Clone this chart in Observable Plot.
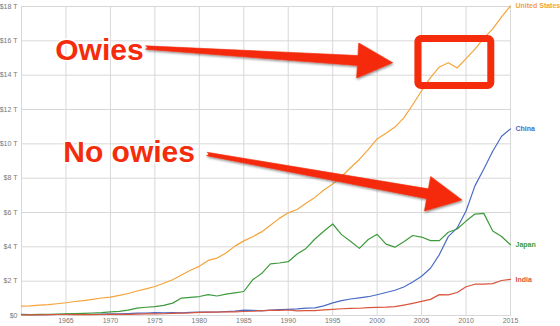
<!DOCTYPE html>
<html>
<head>
<meta charset="utf-8">
<script src="https://cdn.jsdelivr.net/npm/d3@7"></script>
<script src="https://cdn.jsdelivr.net/npm/@observablehq/plot@0.6"></script>
<style>
  html, body { margin: 0; padding: 0; background: #fff; }
  #chart svg { display: block; }
</style>
</head>
<body>
<div id="chart"></div>
<script>
// ---- Data (GDP, current US$, trillions) ----
const years = [1960,1961,1962,1963,1964,1965,1966,1967,1968,1969,
  1970,1971,1972,1973,1974,1975,1976,1977,1978,1979,
  1980,1981,1982,1983,1984,1985,1986,1987,1988,1989,
  1990,1991,1992,1993,1994,1995,1996,1997,1998,1999,
  2000,2001,2002,2003,2004,2005,2006,2007,2008,2009,
  2010,2011,2012,2013,2014,2015];

const unitedStates = [0.543,0.563,0.605,0.639,0.686,0.744,0.815,0.862,0.943,1.020,
  1.075,1.168,1.282,1.429,1.549,1.689,1.878,2.086,2.357,2.632,
  2.863,3.211,3.345,3.638,4.041,4.347,4.590,4.870,5.253,5.658,
  5.980,6.174,6.539,6.879,7.309,7.664,8.100,8.609,9.089,9.661,
  10.285,10.622,10.978,11.511,12.275,13.094,13.856,14.478,14.719,14.419,
  14.964,15.518,16.155,16.692,17.393,18.037];

const china = [0.060,0.050,0.047,0.051,0.059,0.070,0.077,0.073,0.070,0.079,
  0.093,0.100,0.114,0.139,0.144,0.164,0.154,0.175,0.150,0.178,
  0.191,0.196,0.205,0.230,0.260,0.310,0.301,0.273,0.313,0.348,
  0.361,0.383,0.427,0.445,0.564,0.735,0.864,0.962,1.029,1.094,
  1.211,1.339,1.471,1.660,1.955,2.286,2.752,3.550,4.594,5.102,
  6.087,7.552,8.532,9.570,10.440,10.870];

const japan = [0.044,0.054,0.061,0.070,0.082,0.091,0.106,0.123,0.147,0.172,
  0.212,0.240,0.318,0.432,0.479,0.521,0.586,0.721,1.014,1.055,
  1.105,1.218,1.135,1.243,1.318,1.398,2.078,2.441,3.012,3.059,
  3.133,3.585,3.909,4.455,4.907,5.330,4.710,4.320,3.910,4.430,
  4.730,4.160,3.980,4.300,4.660,4.570,4.360,4.360,4.850,5.040,
  5.500,5.910,5.950,4.920,4.600,4.120];

const india = [0.037,0.039,0.042,0.048,0.057,0.059,0.046,0.050,0.053,0.058,
  0.062,0.067,0.071,0.085,0.099,0.098,0.103,0.121,0.137,0.153,
  0.186,0.193,0.201,0.219,0.212,0.233,0.249,0.279,0.296,0.297,
  0.321,0.271,0.288,0.279,0.327,0.360,0.393,0.416,0.421,0.459,
  0.468,0.485,0.515,0.608,0.709,0.820,0.940,1.217,1.199,1.342,
  1.676,1.823,1.828,1.857,2.039,2.104];

const countries = ["United States", "China", "Japan", "India"];
const countryColors = ["#f4a43a", "#4a6cc4", "#3d9a3d", "#d9553c"];

const xTicks = [1965,1970,1975,1980,1985,1990,1995,2000,2005,2010,2015];
const yTicks = [0,2,4,6,8,10,12,14,16,18];

// ---- Annotations (in data coordinates) ----
const annLabels = ["Owies", "No owies"];
const annX = [1963.8, 1964.7];
const annY = [15.45, 9.49];

const arrowX1 = [1974.0, 1980.9];
const arrowY1 = [15.58, 9.38];
const arrowX2 = [2001.8, 2009.6];
const arrowY2 = [14.70, 6.70];

const boxX1 = [2004.64];
const boxX2 = [2012.84];
const boxY1 = [13.37];
const boxY2 = [16.10];

const annColor = "#f52c0c";

// ---- Build tables ----
const seriesValues = [unitedStates, china, japan, india];
const table = [];
countries.forEach((c, i) => {
  years.forEach((yr, j) => table.push({country: c, year: yr, value: seriesValues[i][j]}));
});
const lastPoints = countries.map((c, i) => ({country: c, year: years[years.length - 1], value: seriesValues[i][years.length - 1]}));
const annotations = annLabels.map((t, i) => ({text: t, x: annX[i], y: annY[i]}));
const arrows = arrowX1.map((_, i) => ({x1: arrowX1[i], y1: arrowY1[i], x2: arrowX2[i], y2: arrowY2[i]}));
const boxes = boxX1.map((_, i) => ({x1: boxX1[i], x2: boxX2[i], y1: boxY1[i], y2: boxY2[i]}));

// Tapered filled arrow drawn with the plot's scales
function taperedArrows(data) {
  return (index, scales) => {
    const sx = scales.x, sy = scales.y;
    const g = d3.create("svg:g").attr("aria-label", "arrows").attr("filter", "url(#annShadow)");
    for (const a of data) {
      const tx = sx(a.x1), ty = sy(a.y1), px = sx(a.x2), py = sy(a.y2);
      const dx = px - tx, dy = py - ty, len = Math.hypot(dx, dy);
      const ux = dx / len, uy = dy / len, nx = -uy, ny = ux;
      const hl = 35, hw = 17.5, bw = 5, tw = 1.7;
      const bx = px - ux * hl, by = py - uy * hl;
      const pts = [
        [tx + nx * tw, ty + ny * tw],
        [bx + nx * bw, by + ny * bw],
        [bx + nx * hw, by + ny * hw],
        [px, py],
        [bx - nx * hw, by - ny * hw],
        [bx - nx * bw, by - ny * bw],
        [tx - nx * tw, ty - ny * tw]
      ];
      const d = "M" + pts.map(p => p.join(",")).join("L") +
        `A${tw},${tw} 0 0 1 ${pts[0][0]},${pts[0][1]}Z`;
      g.append("path").attr("d", d).attr("fill", annColor).attr("stroke", annColor).attr("stroke-width", 0.6).attr("stroke-linejoin", "round");
    }
    return g.node();
  };
}

const font = "'Liberation Sans', Arial, sans-serif";

const chart = Plot.plot({
  width: 560,
  height: 326,
  marginLeft: 21,
  marginRight: 50,
  marginTop: 6,
  marginBottom: 11,
  style: {fontFamily: font, background: "#fff", overflow: "visible"},
  x: {domain: [1960, 2015], ticks: xTicks, tickFormat: "d", label: null, tickSize: 0, tickPadding: 4},
  y: {domain: [0, 18], ticks: yTicks, tickFormat: d => d === 0 ? "$0" : `$${d} T`, label: null, tickSize: 0, tickPadding: 4},
  color: {domain: countries, range: countryColors},
  marks: [
    Plot.gridX(xTicks, {stroke: "#d8d8d8", strokeOpacity: 1}),
    Plot.gridY(yTicks, {stroke: "#d8d8d8", strokeOpacity: 1}),
    Plot.frame({stroke: "#d8d8d8"}),
    Plot.axisX({ticks: xTicks, tickFormat: "d", tickSize: 0, tickPadding: 3, fontSize: 7, fill: "#777", label: null}),
    Plot.axisY({ticks: yTicks, tickFormat: d => d === 0 ? "$0" : `$${d} T`, tickSize: 0, tickPadding: 4, fontSize: 7, fill: "#777", label: null}),
    Plot.line(table, {x: "year", y: "value", z: "country", stroke: "country", strokeWidth: 1.2}),
    Plot.text(lastPoints, {x: "year", y: "value", text: "country", fill: "country", dx: 5, textAnchor: "start", fontSize: 7, fontWeight: "bold"}),
    Plot.rect(boxes, {x1: "x1", x2: "x2", y1: "y1", y2: "y2", fill: "none", stroke: annColor, strokeWidth: 7, rx: 3, ariaLabel: "annbox"}),
    taperedArrows(arrows),
    Plot.text(annotations, {x: "x", y: "y", text: "text", textAnchor: "start", fontSize: 30, fontWeight: "bold", fill: annColor, stroke: "white", strokeWidth: 3, ariaLabel: "anntext"})
  ]
});

// Drop-shadow filter for the annotation layer
const svgSel = d3.select(chart.tagName.toLowerCase() === "svg" ? chart : chart.querySelector("svg"));
const defs = svgSel.insert("defs", ":first-child");
const f = defs.append("filter").attr("id", "annShadow").attr("x", "-20%").attr("y", "-40%").attr("width", "140%").attr("height", "180%");
f.append("feDropShadow").attr("dx", 0.6).attr("dy", 1.4).attr("stdDeviation", 1.1).attr("flood-color", "#000").attr("flood-opacity", 0.45);
svgSel.selectAll('g[aria-label="anntext"], g[aria-label="annbox"]').attr("filter", "url(#annShadow)");

document.getElementById("chart").appendChild(chart);
</script>
</body>
</html>
